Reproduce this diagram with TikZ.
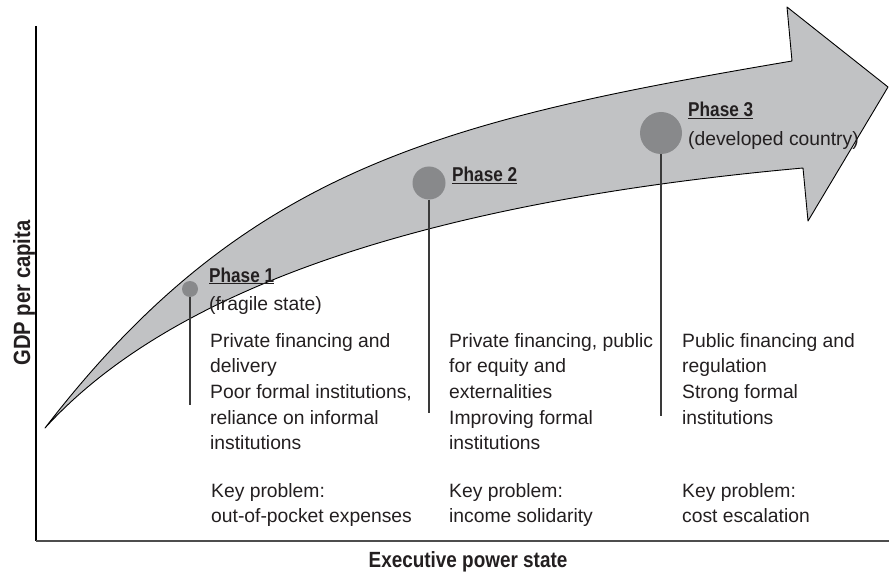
\documentclass[tikz,border=0pt]{standalone}
\usepackage{fontspec}
\setmainfont{Liberation Sans}
\newfontfamily\condb{Liberation Sans}[FakeStretch=0.86]
\definecolor{ink}{HTML}{231F20}
\definecolor{band}{HTML}{C1C2C4}
\definecolor{dotgray}{HTML}{88898B}
\definecolor{stem}{HTML}{3A3A3A}
\definecolor{axisgray}{HTML}{4D4D4D}
\tikzset{
  bodytext/.style={anchor=base west, inner sep=0pt, align=left, text=ink,
    font=\fontsize{19.3bp}{25.7bp}\selectfont},
  phaselabel/.style={anchor=base west, inner sep=0pt, text=ink,
    font=\condb\bfseries\fontsize{20bp}{24bp}\selectfont},
  axislabel/.style={inner sep=0pt, text=ink,
    font=\condb\bfseries\fontsize{22bp}{26bp}\selectfont},
  dot/.style={circle, fill=dotgray, draw=none, inner sep=0pt},
  stemline/.style={draw=stem, line width=1.2bp},
  arrowbody/.style={fill=band, draw=black, line width=0.9bp, line join=round},
}
\begin{document}
\begin{tikzpicture}[x=1bp,y=-1bp]
\useasboundingbox (0,0) rectangle (889,572);
% axes
\coordinate (ytop) at (36,26);
\coordinate (origin) at (36,541);
\coordinate (xend) at (889,541);
\draw[black, line width=1.3bp] (ytop) -- (origin);
\draw[axisgray, line width=2bp] (origin) -- (xend);
\node[axislabel, rotate=90, anchor=base, font=\condb\bfseries\fontsize{23.5bp}{27bp}\selectfont] (ylab) at (30,293) {GDP per capita};
\node[axislabel, anchor=base] (xlab) at (468,567) {Executive power state};
% big arrow
\draw[arrowbody]
  (45,428) .. controls (245,168) and (442,120.5) .. (792,61)
  -- (787,7) -- (888,87) -- (808,221) -- (803,168)
  .. controls (503,195) and (195,263) .. (45,428)
  -- cycle;
% phase dots
\node[dot, minimum size=16bp] (d1) at (190,289) {};
\node[dot, minimum size=33bp] (d2) at (429,183) {};
\node[dot, minimum size=42bp] (d3) at (661,133) {};
\coordinate (e1) at (190,405);
\coordinate (e2) at (429,413);
\coordinate (e3) at (661,416);
\draw[stemline] (d1.south) -- (e1);
\draw[stemline] (d2.south) -- (e2);
\draw[stemline] (d3.south) -- (e3);
% phase labels
\node[phaselabel] (p1) at (209,282) {\underline{Phase 1}};
\node[bodytext] (s1) at (209,310) {(fragile state)};
\node[phaselabel] (p2) at (452,182) {\underline{Phase 2}};
\node[phaselabel] (p3) at (688,117) {\underline{Phase 3}};
\node[bodytext] (s3) at (688,146) {(developed country)};
% body texts (anchored at the baseline of their last line)
\node[bodytext] (b1) at (210,449.8) {Private financing and\\delivery\\Poor formal institutions,\\reliance on informal\\institutions};
\node[bodytext] (b2) at (449,449.8) {Private financing, public\\for equity and\\externalities\\Improving formal\\institutions};
\node[bodytext] (b3) at (682,424.1) {Public financing and\\regulation\\Strong formal\\institutions};
\node[bodytext] (k1) at (211,522.7) {Key problem:\\out-of-pocket expenses};
\node[bodytext] (k2) at (449,522.7) {Key problem:\\income solidarity};
\node[bodytext] (k3) at (682,522.7) {Key problem:\\cost escalation};
\end{tikzpicture}
\end{document}
